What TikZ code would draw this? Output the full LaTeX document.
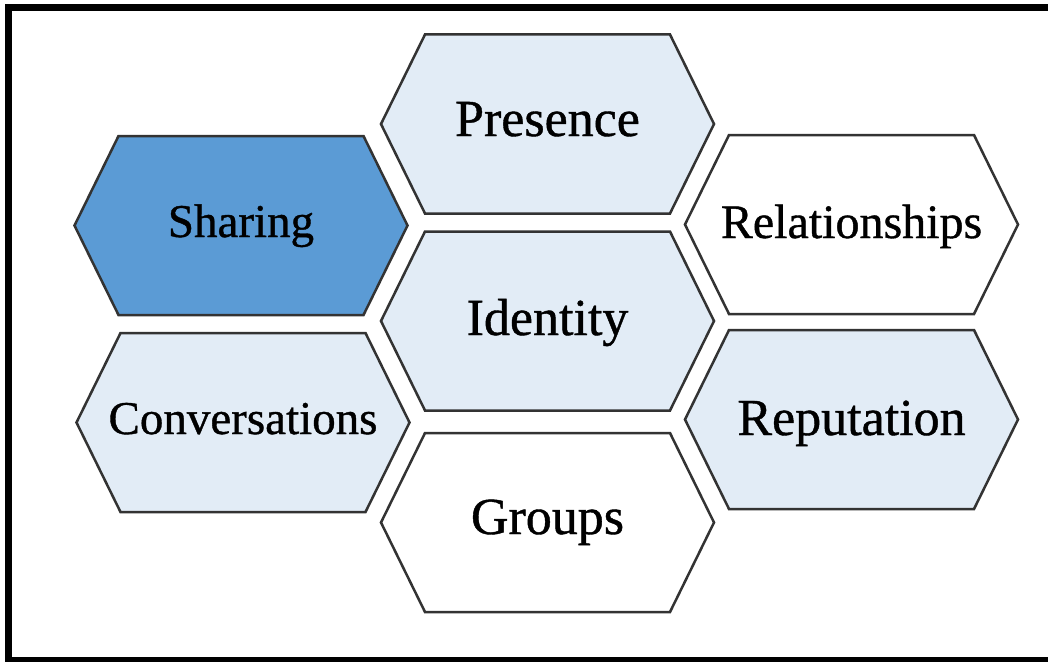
\documentclass[tikz,border=0pt]{standalone}
\usepackage{fontspec}
\setmainfont{Liberation Serif}[FakeBold=0.8]
\definecolor{hexblue}{HTML}{5B9BD5}
\definecolor{hexlight}{HTML}{E2ECF6}
\definecolor{hexedge}{HTML}{333333}
\tikzset{
  hexline/.style={draw=hexedge, line width=2.5pt, line join=miter},
  hexlabel/.style={anchor=base, inner sep=0pt, text=black},
  bigtext/.style={font=\fontsize{52}{60}\selectfont},
  midtext/.style={font=\fontsize{48}{56}\selectfont},
  smalltext/.style={font=\fontsize{47}{56}\selectfont},
}
\begin{document}
\begin{tikzpicture}[x=1pt,y=-1pt]
\useasboundingbox (0,0) rectangle (1048,661);
\clip (0,0) rectangle (1048,661);
\fill[white] (0,0) rectangle (1048,661);
\draw[line width=7pt] (8.5,7.5) rectangle (1080,660.5);
\foreach \nm/\cx/\cy/\col/\txt/\sty/\bl in {
  presence/547.5/124/hexlight/Presence/bigtext/136,
  sharing/241/225.5/hexblue/Sharing/smalltext/237,
  relationships/851.5/224.5/white/Relationships/midtext/238,
  identity/547.5/321/hexlight/Identity/bigtext/335,
  conversations/243/422.5/hexlight/Conversations/smalltext/434,
  reputation/851.5/419.5/hexlight/Reputation/bigtext/435,
  groups/547.5/522.5/white/Groups/bigtext/534}{
  \draw[hexline, fill=\col] (\cx-166.5,\cy) -- (\cx-122.5,\cy-89.5) -- (\cx+122.5,\cy-89.5)
     -- (\cx+166.5,\cy) -- (\cx+122.5,\cy+89.5) -- (\cx-122.5,\cy+89.5) -- cycle;
  \node[hexlabel, \sty] (\nm) at (\cx,\bl) {\txt};
}
\end{tikzpicture}
\end{document}
